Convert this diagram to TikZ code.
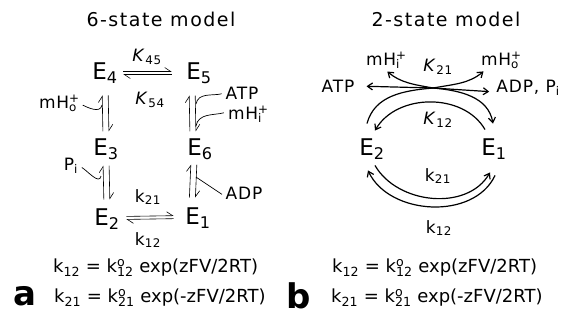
\documentclass[tikz,border=0pt]{standalone}
\usepackage{fontspec}
\setmainfont{DejaVu Sans}
\usetikzlibrary{arrows.meta,positioning}
\newcommand{\Hion}[1]{mH\rlap{\textsuperscript{+}}\textsubscript{#1}}
\newcommand{\kzero}[1]{k\rlap{\textsuperscript{o}}\textsubscript{#1}}

\begin{document}
\begin{tikzpicture}[x=1pt, y=-1pt,
  state/.style={font=\fontsize{23}{23}\selectfont, inner sep=1pt},
  rlbl/.style={font=\fontsize{17}{17}\selectfont\addfontfeature{LetterSpace=5}, inner sep=1pt},
  ttl/.style={font=\fontsize{19}{19}\selectfont\addfontfeature{LetterSpace=8}},
  eqn/.style={font=\fontsize{18}{18}\selectfont, anchor=west, inner sep=0pt},
  panel/.style={font=\fontsize{34}{34}\selectfont\bfseries, inner sep=0pt},
  hp/.style={-{Straight Barb[left,length=6pt,width=8pt]}, line width=0.6pt},
  arr/.style={-{Straight Barb[length=5pt,width=7pt]}, line width=1.2pt},
  feed/.style={line width=0.7pt},
]
\useasboundingbox (0,0) rectangle (565,325);

% (a) 6-state model
\node[ttl] (t6) at (161,19) {6-state model};
\node[state] (E4) at (105,73) {E\textsubscript{4}};
\node[state] (E5) at (199,73) {E\textsubscript{5}};
\node[state] (E3) at (106,149) {E\textsubscript{3}};
\node[state] (E6) at (200,149) {E\textsubscript{6}};
\node[state] (E2) at (107,219) {E\textsubscript{2}};
\node[state] (E1) at (198,218) {E\textsubscript{1}};
\node[rlbl] (K45) at (147,57) {\textit{K}\textsubscript{45}};
\node[rlbl] (K54) at (150,100) {\textit{K}\textsubscript{54}};
\node[rlbl] (k21) at (148,197) {k\textsubscript{21}};
\node[rlbl] (k12) at (148,240) {k\textsubscript{12}};
\node[rlbl] (Ho) at (58,103) {\Hion{o}};
\node[rlbl] (Pi) at (71,166) {P\textsubscript{i}};
\node[rlbl] (ATP) at (242,93) {ATP};
\node[rlbl] (Hi) at (245,114) {\Hion{i}};
\node[rlbl] (ADP) at (244,193) {ADP};

\draw[hp, shorten <=4.5pt, shorten >=13.5pt] ([yshift=1.5pt]E4.east) -- ([yshift=1.5pt]E5.west);
\draw[hp, shorten <=13.5pt, shorten >=4.5pt] ([yshift=-1.5pt]E5.west) -- ([yshift=-1.5pt]E4.east);
\draw[hp, shorten <=5.5pt, shorten >=10.5pt] ([yshift=2.5pt]E2.east) -- ([yshift=2.5pt]E1.west);
\draw[hp, shorten <=10.5pt, shorten >=5.5pt] ([yshift=-0.5pt]E1.west) -- ([yshift=-0.5pt]E2.east);
\draw[hp, shorten <=6pt, shorten >=11pt] ([xshift=-3pt]E3.north) -- ([xshift=-3pt]E4.south);
\draw[hp, shorten <=11pt, shorten >=6pt] ([xshift=3pt]E4.south) -- ([xshift=3pt]E3.north);
\draw[hp, shorten <=8pt, shorten >=5pt] ([xshift=-3pt]E2.north) -- ([xshift=-3pt]E3.south);
\draw[hp, shorten <=5pt, shorten >=8pt] ([xshift=3pt]E3.south) -- ([xshift=3pt]E2.north);
\draw[hp, shorten <=6pt, shorten >=11pt] ([xshift=-10pt]E6.north) -- ([xshift=-10pt]E5.south);
\draw[hp, shorten <=11pt, shorten >=6pt] ([xshift=-4pt]E5.south) -- ([xshift=-4pt]E6.north);
\draw[hp, shorten <=9pt, shorten >=4pt] ([xshift=-9pt]E1.north) -- ([xshift=-9pt]E6.south);
\draw[hp, shorten <=4pt, shorten >=9pt] ([xshift=-3pt]E6.south) -- ([xshift=-3pt]E1.north);

\coordinate (jHo) at (102,105);
\coordinate (jPi) at (101,176);
\coordinate (jATP) at (196,104);
\coordinate (jHi) at (196,126);
\coordinate (jADP) at (196,177);
\draw[feed, shorten <=5pt] (Ho.east) to[out=-25,in=-100] (jHo);
\draw[feed, shorten <=3pt] (Pi.east) to[out=-30,in=-100] (jPi);
\draw[feed, shorten <=3pt] (ATP.west) to[out=195,in=80] (jATP);
\draw[feed, shorten <=3pt] ([yshift=2pt]Hi.west) to[out=195,in=80] (jHi);
\draw[feed, shorten <=3pt] ([yshift=-3pt]ADP.west) -- (jADP);

\node[eqn] (eqa1) at (53,268) {k\textsubscript{12} = \kzero{12} exp(zFV/2RT)};
\node[eqn] (eqa2) at (54,298) {k\textsubscript{21} = \kzero{21} exp(-zFV/2RT)};
\node[panel] (pa) at (25,296) {a};

% (b) 2-state model
\node[ttl] (t2) at (446,19) {2-state model};
\node[state] (F2) at (372,149) {E\textsubscript{2}};
\node[state] (F1) at (494,149) {E\textsubscript{1}};
\coordinate (hub) at (433,88);
\node[rlbl] (ATP2) at (338,86) {ATP};
\node[rlbl] (ADP2) at (528,88) {ADP, P\textsubscript{i}};
\node[rlbl] (Hi2) at (383,60) {\Hion{i}};
\node[rlbl] (Ho2) at (500,60) {\Hion{o}};
\node[rlbl] (K21) at (438,67) {\textit{K}\textsubscript{21}};
\node[rlbl] (K12) at (438,120) {\textit{K}\textsubscript{12}};
\node[rlbl] (k21b) at (438,176) {k\textsubscript{21}};
\node[rlbl] (k12b) at (439,228) {k\textsubscript{12}};

\draw[arr] ([shift={(-5,-14)}]F2.north) to[out=75,in=185] (hub) to[out=-5,in=100] ([shift={(-1,-14)}]F1.north);
\draw[arr, shorten >=11pt] (hub) -- (ATP2.east);
\draw[arr, shorten >=6pt] (hub) -- ([yshift=-4pt]ADP2.west);
\draw[arr, shorten >=3pt] (hub) to[out=170,in=-40] ([xshift=2pt]Hi2.south);
\draw[arr, shorten >=3pt] (hub) to[out=10,in=-140] ([xshift=6pt]Ho2.south west);
\draw[arr] ([shift={(-9,-8)}]F1.north) to[out=120,in=60] ([shift={(3,-7)}]F2.north);
\draw[arr] ([shift={(3,5)}]F2.south) to[out=-60,in=-120] ([shift={(-4,12)}]F1.south);
\draw[arr] ([shift={(1,15)}]F1.south) to[out=-115,in=-65] ([shift={(-4,10)}]F2.south);

\node[eqn] (eqb1) at (332,268) {k\textsubscript{12} = \kzero{12} exp(zFV/2RT)};
\node[eqn] (eqb2) at (331,298) {k\textsubscript{21} = \kzero{21} exp(-zFV/2RT)};
\node[panel] (pb) at (299,296) {b};
\end{tikzpicture}
\end{document}
